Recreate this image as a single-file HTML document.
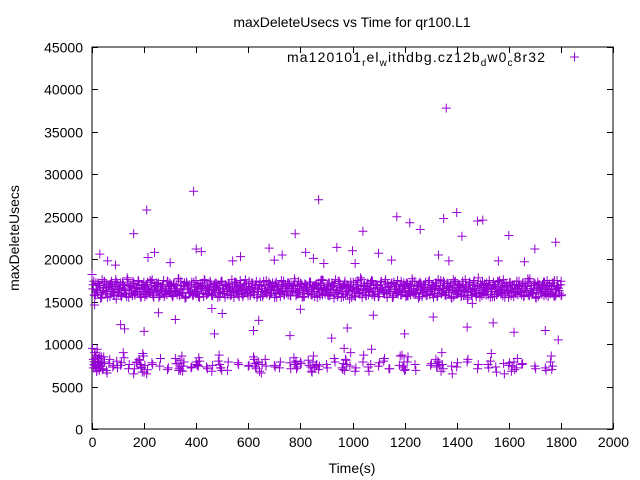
<!DOCTYPE html>
<html><head><meta charset="utf-8"><style>
body{margin:0;background:#fff;}
svg{display:block;font-family:"Liberation Sans",sans-serif;}
</style></head><body>
<svg id="chart" width="640" height="480" viewBox="0 0 640 480">
<rect width="640" height="480" fill="#fff"/>
<text x="352" y="27" font-size="14" text-anchor="middle">maxDeleteUsecs vs Time for qr100.L1</text>
<text x="352" y="473" font-size="14" text-anchor="middle">Time(s)</text>
<text transform="translate(19,238) rotate(-90)" font-size="14" text-anchor="middle">maxDeleteUsecs</text>
<g id="axes"></g>
<g id="marks"></g>
<g>
<text x="287" y="62" font-size="14" textLength="258" lengthAdjust="spacing">ma120101<tspan font-size="10" dy="4">r</tspan><tspan dy="-4">el</tspan><tspan font-size="10" dy="4">w</tspan><tspan dy="-4">ithdbg.cz12b</tspan><tspan font-size="10" dy="4">d</tspan><tspan dy="-4">w0</tspan><tspan font-size="10" dy="4">c</tspan><tspan dy="-4">8r32</tspan></text>
<path d="M570,57h9M574.5,52.5v9" stroke="#9400d3" stroke-width="1"/>
</g>
</svg>
<script>
const xTicks=[0,200,400,600,800,1000,1200,1400,1600,1800,2000];
const yTicks=[0,5000,10000,15000,20000,25000,30000,35000,40000,45000];
const bandVals=[16500,15800,17200,16100,16900,15400,17600,16300,15900,17100,16700,15600,17400,16200,16800,15300,17000,16400,15700,17300,16600,16000,17800,15500,16900,16300,17100,15800,16500,17500,16200,15600,17000,16700,15900,17300,16400,16100,17600,15500,16800,16200,17200,15700,16600,17000,15900,16400,17400,16100,16800,15600,17100,16300,15800,17700,16500,16000,16900,15400,17300,16600,16100,17000,15700,16400,17500,16200,15900,16800,17200,15600,16500,16900,16000,17400,15800,16300,17100,16700,15500,16600,17300,16200,15900,17000,16400,16800,15700,17600,16100,16500,17200,15800,16900,16300,15600,17100,16600,16000,17400,15900,16700,16200,17000,15500,16400,17300,16800,15800,16100,17500,16500,15700,16900,17200,16300,15900,16600,17000,15600,16200,17400,16800,16000,15800,17100,16500,16300,17700,15700,16900,16100,17200,15500,16600,17000,16400,15900,17300,16200,16800,15600,17100,16500,16000,17500,15800,16700,16300,17000,15700,16400,17200,16900,15900,16100,17400,16600,15500,16800,17100,16200,15800,16500,17300,16000,16700,15600,17000,16400,15900,17600,16300,16800,15700,17200,16100,16600,17400,15800,16900,16200,15600,17000,16500,16100,17300,15900,16700,16400,17100,15500,16800,16000,17500,16300,15800,16600,17200,16900,15700,16200,17000,16500,15900,17400,16100,16800,15600,17100,16400,16000,17300,15800,16700,16200,17000,15500,16600,16900,17600,16300,15900,16500,17200,15700,16800,16100,17100,16400,15600,17400,16600,16000,16900,15800,17000,16300,16700,15500,17300,16200,16500,17500,15900,16800,16100,17100,15700,16600,16400,17200,15800,16900,16200,17000,15600,16500,17400,16300,15900,16700,17100,16000,16800,15500,17300,16400,16100,16600,17000,15800,16900,16200,17200,15700,16500,16800,17400,16100,15900,16600,17100,16300,15600,17000,16700,16200,17300,15800,16500,16900,16000,17200,15700,16400,17500,16600];
const bandTimes2=[3,9,15,21,27,33,39,45,51,57,63,69,75,81,87,93,99,105,111,117,123,129,135,141,147,153,159,165,171,177,183,189,195,201,207,213,219,225,231,237,243,249,255,261,267,273,279,285,291,297,303,309,315,321,327,333,339,345,351,357,363,369,375,381,387,393,399,405,411,417,423,429,435,441,447,453,459,465,471,477,483,489,495,501,507,513,519,525,531,537,543,549,555,561,567,573,579,585,591,597,603,609,615,621,627,633,639,645,651,657,663,669,675,681,687,693,699,705,711,717,723,729,735,741,747,753,759,765,771,777,783,789,795,801,807,813,819,825,831,837,843,849,855,861,867,873,879,885,891,897,903,909,915,921,927,933,939,945,951,957,963,969,975,981,987,993,999,1005,1011,1017,1023,1029,1035,1041,1047,1053,1059,1065,1071,1077,1083,1089,1095,1101,1107,1113,1119,1125,1131,1137,1143,1149,1155,1161,1167,1173,1179,1185,1191,1197,1203,1209,1215,1221,1227,1233,1239,1245,1251,1257,1263,1269,1275,1281,1287,1293,1299,1305,1311,1317,1323,1329,1335,1341,1347,1353,1359,1365,1371,1377,1383,1389,1395,1401,1407,1413,1419,1425,1431,1437,1443,1449,1455,1461,1467,1473,1479,1485,1491,1497,1503,1509,1515,1521,1527,1533,1539,1545,1551,1557,1563,1569,1575,1581,1587,1593,1599,1605,1611,1617,1623,1629,1635,1641,1647,1653,1659,1665,1671,1677,1683,1689,1695,1701,1707,1713,1719,1725,1731,1737,1743,1749,1755,1761,1767,1773,1779,1785,1791,1797,1799];
const lowTimes=[2,5,8,10,12,15,18,20,22,25,28,30,33,36,40,45,55,65,80,95,110,120,140,160,170,180,185,190,195,200,210,230,260,290,320,330,335,340,345,350,380,400,405,410,440,460,485,490,495,520,560,600,620,625,630,640,650,665,700,720,760,775,780,785,800,830,840,845,850,860,870,900,930,960,965,970,975,990,1010,1040,1060,1070,1100,1120,1140,1180,1190,1195,1200,1210,1240,1300,1320,1325,1330,1340,1345,1380,1400,1440,1480,1520,1530,1550,1580,1600,1610,1620,1630,1650,1700,1740,1760,1765];
const lowVals=[9500,8200,7600,9000,7200,8700,6800,9400,7800,8300,7100,8600,7400,7900,7000,8500,6900,7700,7300,8000,7500,9000,7100,6500,7800,8200,7600,7200,8900,6700,6500,7800,7400,7000,8300,7700,7100,6900,8600,7400,7200,7900,7500,8400,7300,6800,8000,7600,7200,6900,7800,7400,8500,7700,7100,7900,6600,8200,7500,7200,7800,8400,7600,7100,7900,8100,7300,6700,8600,7500,7000,7600,8300,7200,7700,6900,8100,7400,6800,7900,7300,7600,7400,8000,7100,7500,8700,7200,6900,7900,7600,7500,8200,7300,7800,6800,7600,7400,7300,7900,7100,7600,8000,7300,7700,7500,6800,7900,7200,7600,7400,7200,7900,7000];
const outTimes=[0,10,30,60,90,110,125,160,200,210,215,240,255,300,320,390,400,420,460,470,500,540,570,620,640,680,700,730,760,780,800,820,850,870,890,920,940,980,1000,1010,1040,1080,1100,1150,1170,1200,1220,1260,1310,1330,1350,1360,1370,1400,1420,1440,1460,1480,1500,1540,1560,1600,1620,1660,1700,1740,1780,1790];
const outVals=[18200,14600,20600,19800,19300,12300,11800,23000,11500,25800,20200,20800,13700,19600,12900,28000,21200,20900,14200,11200,13600,19800,20300,11600,12800,21300,19900,20500,11000,23000,14100,20800,20100,27000,19500,10700,21400,11900,21000,19500,23300,13400,20700,19900,25000,11200,24300,23500,13200,20500,24800,37800,19800,25500,22700,12000,14800,24500,24600,12500,19800,22800,11400,19700,21200,11600,22000,10500];
const X0=92,X1=613,Y0=429,Y1=47;
const sx=t=>X0+(t-0)/(2000-0)*(X1-X0);
const sy=v=>Y0-(v-0)/(45000-0)*(Y0-Y1);
const NS="http://www.w3.org/2000/svg";
const axes=document.getElementById('axes');
const marks=document.getElementById('marks');
function mk(tag,attrs,parent){const e=document.createElementNS(NS,tag);for(const k in attrs)e.setAttribute(k,attrs[k]);parent.appendChild(e);return e;}
const frame=mk('rect',{x:X0,y:Y1,width:X1-X0,height:Y0-Y1,fill:'none',stroke:'#000','stroke-width':1},axes);


xTicks.forEach(t=>{const x=Math.round(sx(t))+0.5;
 const p=mk('path',{d:`M${x},${Y0}v-6M${x},${Y1}v6`,stroke:'#000'},axes);
 
 
 const l=mk('text',{x:x,y:Y0+18,'font-size':14,'text-anchor':'middle'},axes);l.textContent=t;
 
 });
yTicks.forEach(v=>{const y=Math.round(sy(v))+0.5;
 const p=mk('path',{d:`M${X0},${y}h6M${X1},${y}h-6`,stroke:'#000'},axes);
 
 
 const l=mk('text',{x:X0-9,y:y+5,'font-size':14,'text-anchor':'end'},axes);l.textContent=v;
 
 });
function cross(t,v){const x=sx(t),y=sy(v);
 const p=mk('path',{d:`M${x-4.5},${y}h9M${x},${y-4.5}v9`,stroke:'#9400d3','stroke-width':1},marks);
 
 }
bandTimes2.forEach((t,i)=>{if(i<bandVals.length)cross(t,bandVals[i]);});
bandTimes2.forEach((t,i)=>{const j=(i+150)%bandVals.length;cross(t+2,bandVals[j]);});
bandTimes2.forEach((t,i)=>{const j=(i+75)%bandVals.length;cross(t+4,bandVals[j]);});
lowTimes.forEach((t,i)=>cross(t,lowVals[i]));
lowTimes.forEach((t,i)=>cross(t+3,lowVals[(i+40)%lowVals.length]));
outTimes.forEach((t,i)=>cross(t,outVals[i]));
</script>
</body></html>
